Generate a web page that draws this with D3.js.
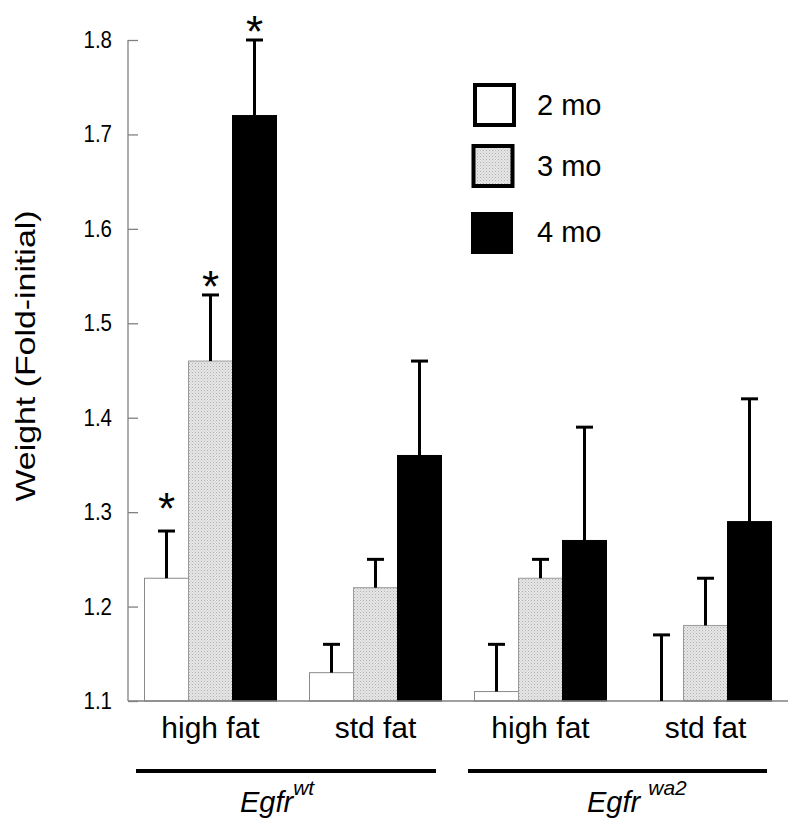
<!DOCTYPE html>
<html><head><meta charset="utf-8">
<script src="https://cdn.jsdelivr.net/npm/d3@7"></script>
<style>body{margin:0;background:#fff;} text{font-family:"Liberation Sans",Arial,sans-serif;}</style>
</head><body>
<svg id="chart" width="800" height="832"></svg>
<script>
const groups = ["wt-high", "wt-std", "wa2-high", "wa2-std"];
const groupLabels = ["high fat", "std fat", "high fat", "std fat"];
const series = ["2 mo", "3 mo", "4 mo"];
const mo2 = [1.23, 1.13, 1.11, 1.10];
const mo2Err = [1.28, 1.16, 1.16, 1.17];
const mo3 = [1.46, 1.22, 1.23, 1.18];
const mo3Err = [1.53, 1.25, 1.25, 1.23];
const mo4 = [1.72, 1.36, 1.27, 1.29];
const mo4Err = [1.80, 1.46, 1.39, 1.42];
// significance marker level (in y units), null = none
const star2 = [1.315, null, null, null];
const star3 = [1.55, null, null, null];
const star4 = [1.82, null, null, null];
const yTicks = [1.1, 1.2, 1.3, 1.4, 1.5, 1.6, 1.7, 1.8];

const svg = d3.select("#chart");
const defs = svg.append("defs");
const pat = defs.append("pattern").attr("id","dots").attr("patternUnits","userSpaceOnUse")
  .attr("width",3).attr("height",3);
pat.append("rect").attr("width",3).attr("height",3).attr("fill","#e6e6e6");
pat.append("rect").attr("x",0).attr("y",0).attr("width",1).attr("height",1).attr("fill","#b0b0b0");
pat.append("rect").attr("x",1.5).attr("y",1.5).attr("width",1).attr("height",1).attr("fill","#c4c4c4");

const fills = ["#ffffff", "url(#dots)", "#000000"];
const strokes = ["#8a8a8a", "#9a9a9a", "#000000"];

const x0 = d3.scaleBand().domain(groups).range([128, 788]).paddingInner(0.2).paddingOuter(0.1);
const x1 = d3.scaleBand().domain(series).range([0, x0.bandwidth()]);
const y = d3.scaleLinear().domain([1.1, 1.8]).range([701, 40]);

const data = [];
const vals = [mo2, mo3, mo4], errs = [mo2Err, mo3Err, mo4Err], stars = [star2, star3, star4];
groups.forEach((g, gi) => series.forEach((s, si) => {
  data.push({g, s, si, v: vals[si][gi], e: errs[si][gi], star: stars[si][gi]});
}));

// y axis
const yAxis = d3.axisRight(y).tickValues(yTicks).tickSize(10).tickFormat(d3.format(".1f"));
const ya = svg.append("g").attr("transform","translate(128,0)").call(yAxis);
ya.select(".domain").attr("stroke","#808080").attr("stroke-width",1.3).attr("d","M0,40V701");
ya.selectAll(".tick line").attr("stroke","#808080").attr("stroke-width",1.3);
ya.selectAll(".tick text").attr("x",null).attr("dy",null)
  .attr("transform","translate(-16,0) scale(1,1.18)").attr("y",7.5/1.18).attr("text-anchor","end")
  .attr("font-size",20.5).attr("fill","#000").attr("font-family","Liberation Sans, Arial, sans-serif");

// bars
svg.append("g").selectAll("rect").data(data).join("rect")
  .attr("x", d => x0(d.g) + x1(d.s))
  .attr("y", d => y(d.v))
  .attr("width", x1.bandwidth())
  .attr("height", d => y(1.1) - y(d.v))
  .attr("fill", d => fills[d.si])
  .attr("stroke", d => strokes[d.si])
  .attr("stroke-width", 1);

// x axis baseline
svg.append("line").attr("x1",128).attr("x2",788).attr("y1",y(1.1)).attr("y2",y(1.1))
  .attr("stroke","#808080").attr("stroke-width",1.3);

// error bars
const eb = svg.append("g").attr("stroke","#000").attr("stroke-width",3);
data.forEach(d => {
  const cx = x0(d.g) + x1(d.s) + x1.bandwidth()/2;
  eb.append("line").attr("x1",cx).attr("x2",cx).attr("y1",y(d.v)).attr("y2",y(d.e));
  eb.append("line").attr("x1",cx-8.5).attr("x2",cx+8.5).attr("y1",y(d.e)).attr("y2",y(d.e));
});

// asterisks
svg.append("g").selectAll("text").data(data.filter(d => d.star != null)).join("text")
  .attr("x", d => x0(d.g) + x1(d.s) + x1.bandwidth()/2)
  .attr("y", d => y(d.star) + 26)
  .attr("text-anchor","middle").attr("font-size",44).attr("font-family","DejaVu Sans").text("*");

// group labels
svg.append("g").selectAll("text").data(groups).join("text")
  .attr("x", d => x0(d) + x0.bandwidth()/2)
  .attr("y", 738).attr("text-anchor","middle").attr("font-size",30)
  .text((d,i) => groupLabels[i]);

// genotype bars
svg.append("line").attr("x1",136).attr("x2",436).attr("y1",771).attr("y2",771).attr("stroke","#000").attr("stroke-width",4);
svg.append("line").attr("x1",468).attr("x2",767).attr("y1",771).attr("y2",771).attr("stroke","#000").attr("stroke-width",4);

const t1 = svg.append("text").attr("x",240).attr("y",812).attr("font-size",29).attr("font-style","italic");
t1.append("tspan").text("Egfr");
t1.append("tspan").attr("dy",-17).attr("font-size",21).text("wt");
const t2 = svg.append("text").attr("x",587).attr("y",812).attr("font-size",29).attr("font-style","italic");
t2.append("tspan").text("Egfr ");
t2.append("tspan").attr("dy",-17).attr("font-size",21).text("wa2");

// y label
svg.append("text").attr("transform","translate(35,356) rotate(-90) scale(1.21,1)").attr("text-anchor","middle")
  .attr("font-size",28).text("Weight (Fold-initial)");

// legend
const legY = [85, 146, 212];
const leg = svg.append("g");
series.forEach((s, i) => {
  leg.append("rect").attr("x", i===2 ? 471 : 475 - i*1.5).attr("y", legY[i]).attr("width", i===2?42:39).attr("height", i===2?42:40)
    .attr("fill", fills[i]).attr("stroke", "#000").attr("stroke-width", i===2 ? 0 : 4);
  leg.append("text").attr("x",537).attr("y",legY[i]+30).attr("font-size",29).text(s);
});
</script>
</body></html>
